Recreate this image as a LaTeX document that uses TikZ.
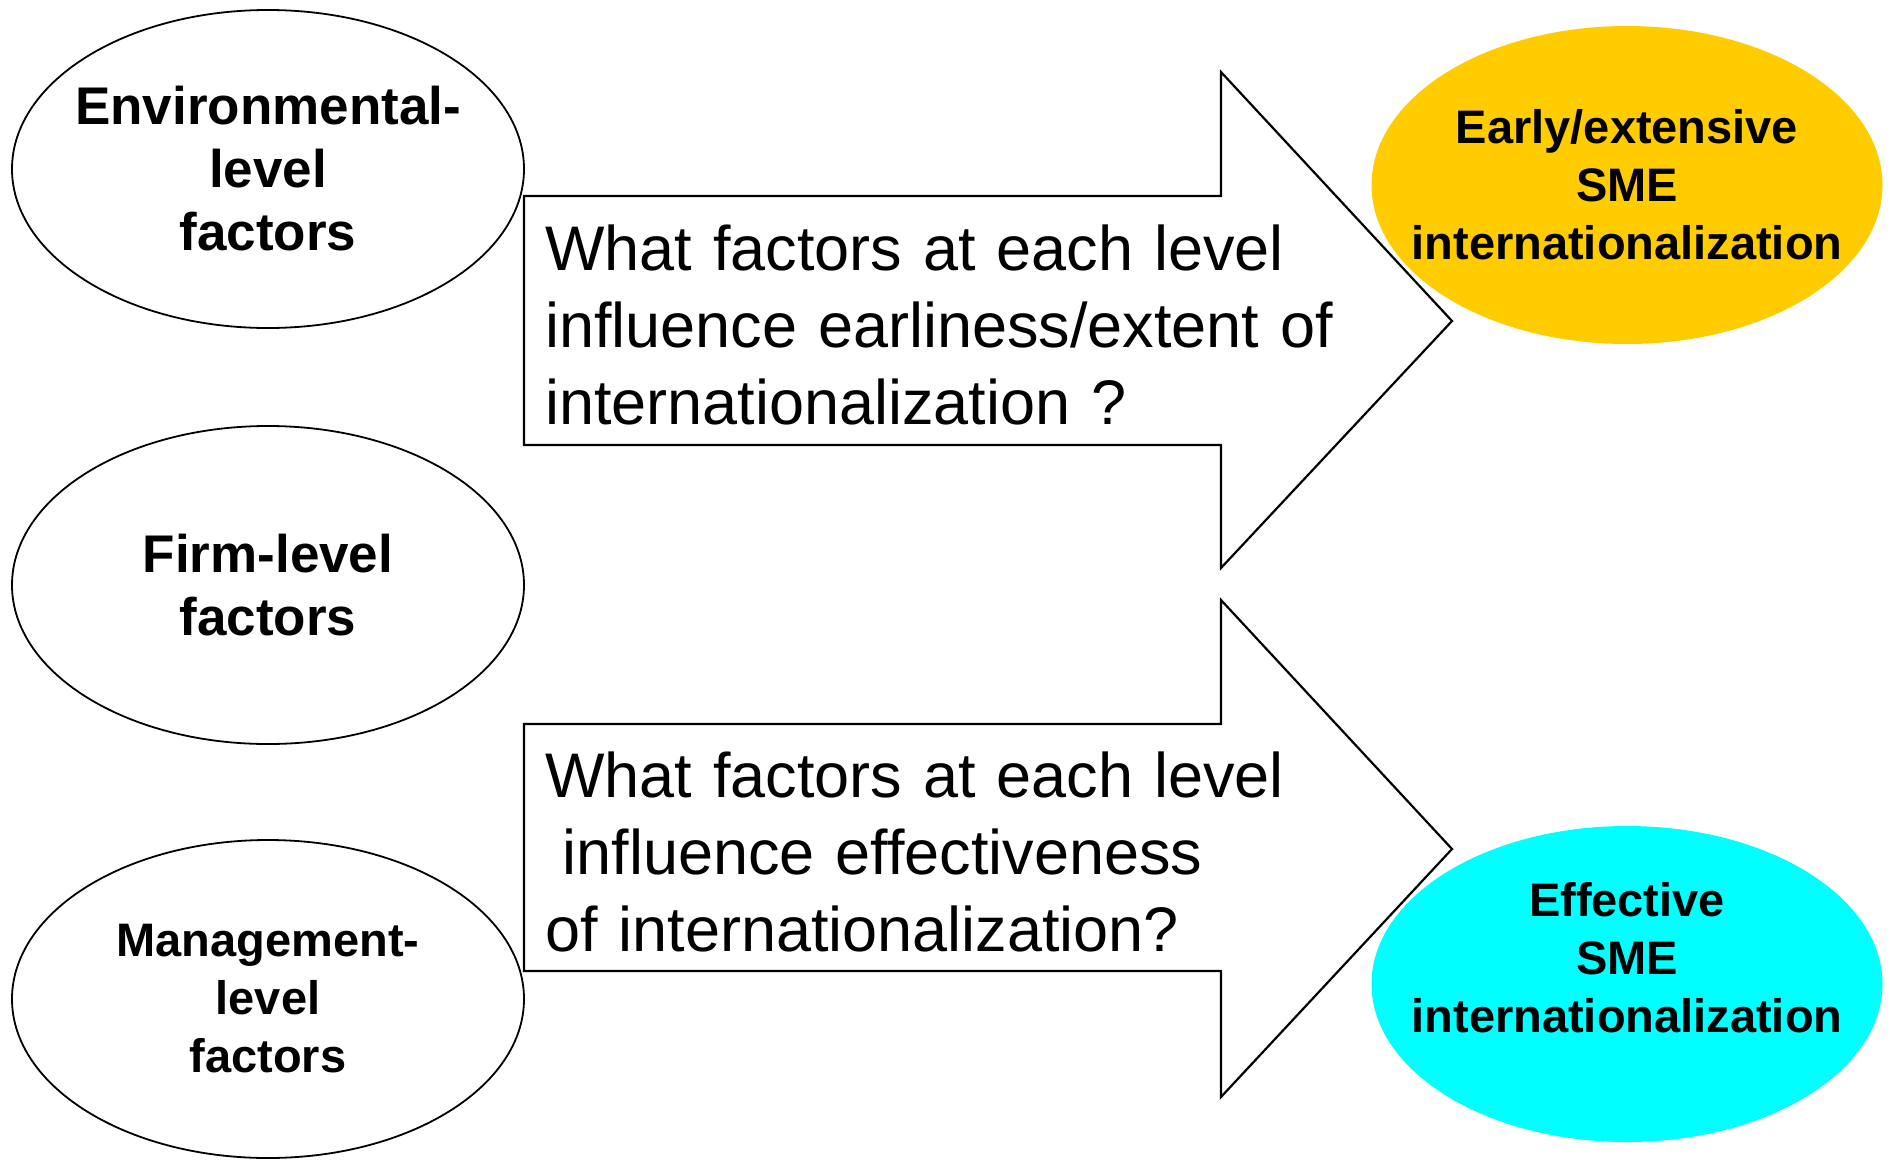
\documentclass[tikz,border=0pt]{standalone}
\usepackage{fontspec}
\setmainfont{Liberation Sans}
\usetikzlibrary{shapes.geometric}
\definecolor{outyellow}{HTML}{FFCC00}
\definecolor{outcyan}{HTML}{00FFFF}
\begin{document}
\begin{tikzpicture}[x=1pt,y=-1pt,
  level/.style={ellipse, draw=black, line width=1.8pt, fill=white,
    minimum width=512pt, minimum height=318pt, inner sep=0pt},
  outcome/.style={ellipse, minimum width=511pt, minimum height=318pt,
    inner sep=0pt},
  label text/.style={inner sep=0pt, align=center},
  bigbold/.style={font=\fontsize{53}{63}\selectfont\bfseries},
  smallbold/.style={font=\fontsize{47}{58}\selectfont\bfseries},
  question/.style={anchor=base west, inner sep=0pt, text width=950pt,
    align=left, font=\fontsize{63}{77}\selectfont},
  blockarrow/.style={draw=black, line width=2.2pt, fill=white, line join=miter}
]
\useasboundingbox (0,0) rectangle (1890,1160);

% factor levels
\node[level] (env) at (268,169) {};
\node[label text, bigbold] (envtext) at (env.center)
  {Environmental-\\level\\factors};
\node[level] (firm) at (268,585) {};
\node[label text, bigbold] (firmtext) at (firm.center) {Firm-level\\factors};
\node[level] (mgmt) at (268,999) {};
\node[label text, smallbold] (mgmttext) at (mgmt.center)
  {Management-\\level\\factors};

% outcomes
\node[outcome, fill=outyellow] (early) at (1627,185) {};
\node[label text, smallbold] (earlytext) at (early.center)
  {Early/extensive\\SME\\internationalization};
\node[outcome, fill=outcyan, minimum height=316pt] (effective) at (1627,984) {};
\node[label text, smallbold] (efftext) at (1627,958)
  {Effective\\SME\\internationalization};

% block arrows
\draw[blockarrow] (524,196) -- (1221,196) -- (1221,72) -- (1452,321)
  -- (1221,568) -- (1221,445) -- (524,445) -- cycle;
\draw[blockarrow] (524,724) -- (1221,724) -- (1221,600) -- (1452,849)
  -- (1221,1097) -- (1221,971) -- (524,971) -- cycle;

% research questions
\node[question] (q1) at (545,270)
  {What factors at each level\\influence earliness/extent of\\internationalization ?};
\node[question] (q2) at (545,797)
  {What factors at each level\\\hspace*{0.278em}influence effectiveness\\of internationalization?};
\end{tikzpicture}
\end{document}
